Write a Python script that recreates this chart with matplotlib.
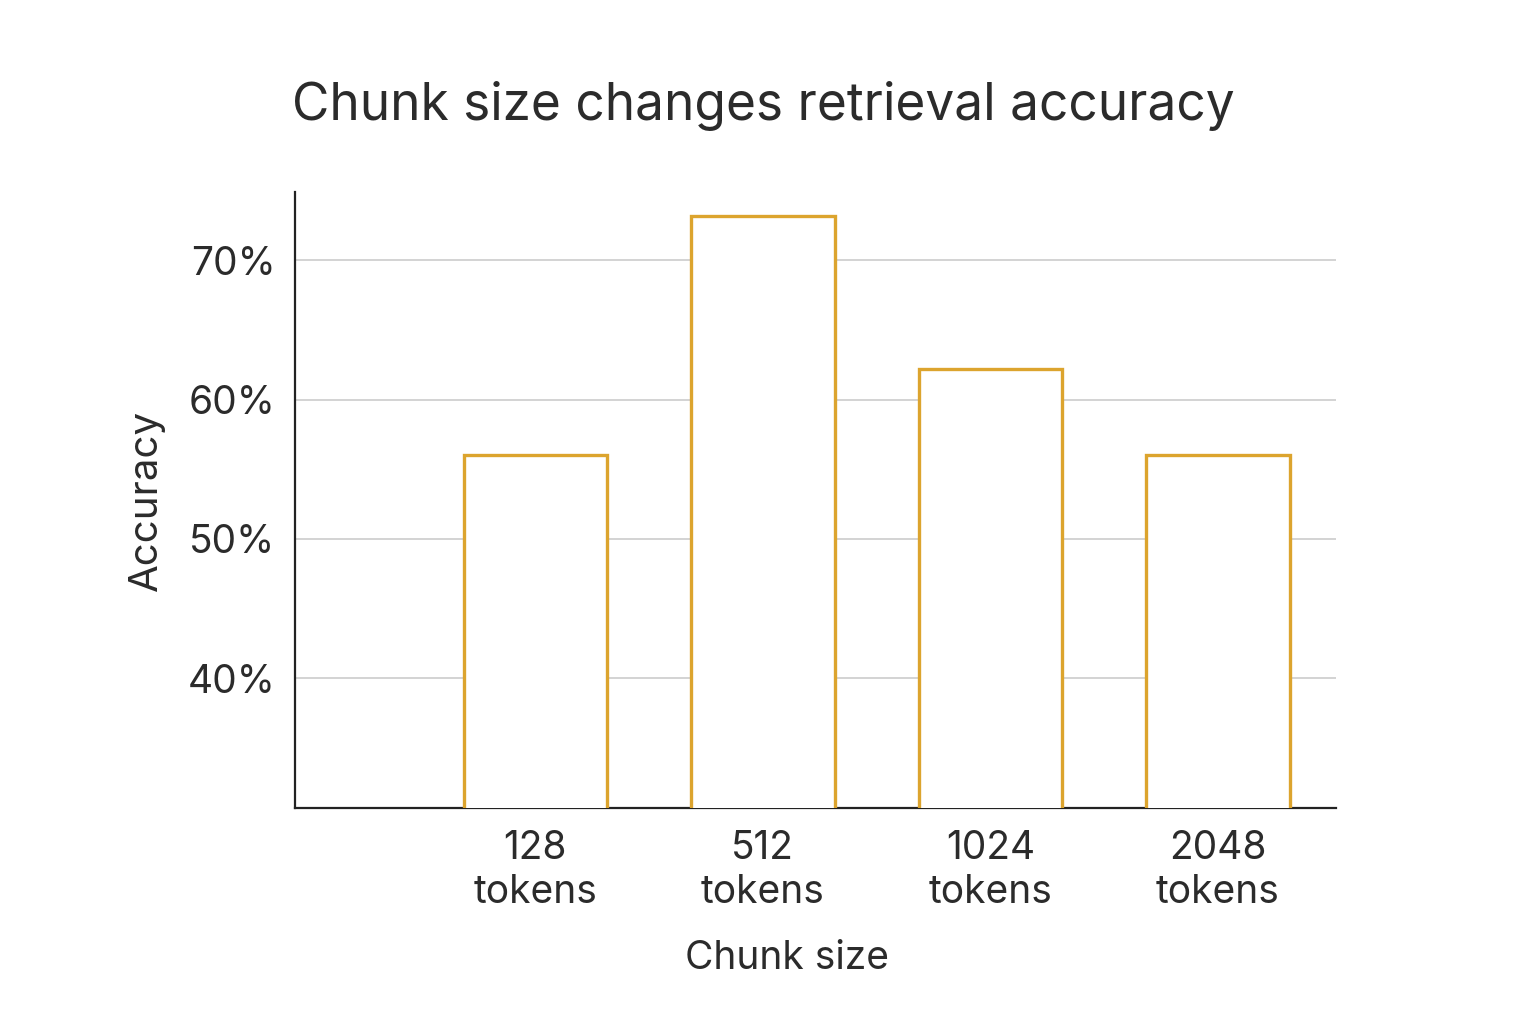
import matplotlib
matplotlib.use("Agg")
import matplotlib.pyplot as plt
import numpy as np

# ====== DATA ======
chunk_labels = ["128\ntokens", "512\ntokens", "1024\ntokens", "2048\ntokens"]
accuracy = [56.0, 73.2, 62.2, 56.0]
y_ticks = [40, 50, 60, 70]
y_tick_labels = ["40%", "50%", "60%", "70%"]

plt.rcParams["font.family"] = ["Inter", "DejaVu Sans"]
text_color = "#2b2b2b"
bar_edge = "#DCA42E"

fig = plt.figure(figsize=(15.36, 10.24), dpi=100)
ax = fig.add_axes([0.192, 0.211, 0.678, 0.6015])

x = np.arange(len(accuracy))
ax.bar(x, accuracy, width=0.63, color="white", edgecolor=bar_edge,
       linewidth=2.4, zorder=3)

ax.set_ylim(30.7, 74.9)
ax.set_xlim(-1.056, 3.52)
ax.set_yticks(y_ticks)
ax.set_yticklabels(y_tick_labels)
ax.set_xticks(x)
ax.set_xticklabels(chunk_labels, linespacing=1.22)
ax.tick_params(axis="both", length=0, labelsize=28, colors=text_color)
ax.tick_params(axis="y", pad=14)
ax.tick_params(axis="x", pad=16)

ax.grid(axis="y", color="#cccccc", linewidth=1.2, zorder=0)
ax.set_axisbelow(True)
for side in ["top", "right"]:
    ax.spines[side].set_visible(False)
for side in ["left", "bottom"]:
    ax.spines[side].set_color("#222222")
    ax.spines[side].set_linewidth(1.6)

ax.set_ylabel("Accuracy", fontsize=29, color=text_color, labelpad=16)
ax.set_xlabel("Chunk size", fontsize=28, color=text_color, labelpad=20)
ax.xaxis.set_label_coords(0.473, -0.215)

fig.text(0.497, 0.896, "Chunk size changes retrieval accuracy", ha="center",
         va="center", fontsize=37, color=text_color)

plt.savefig("out.png", dpi=100, facecolor="white")
plt.close()
